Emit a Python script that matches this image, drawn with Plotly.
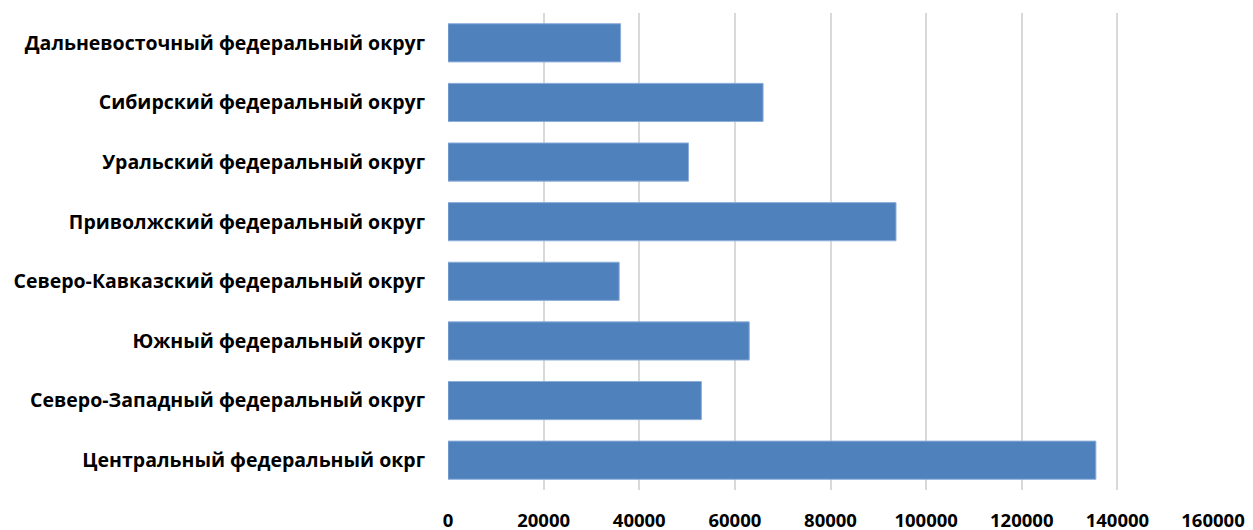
import plotly.graph_objects as go

districts = [
    "Центральный федеральный окрг",
    "Северо-Западный федеральный округ",
    "Южный федеральный округ",
    "Северо-Кавказский федеральный округ",
    "Приволжский федеральный округ",
    "Уральский федеральный округ",
    "Сибирский федеральный округ",
    "Дальневосточный федеральный округ",
]
values = [135500, 53000, 63000, 35800, 93700, 50300, 65900, 36100]
tick_vals = [0, 20000, 40000, 60000, 80000, 100000, 120000, 140000, 160000]
tick_text = ["0", "20000", "40000", "60000", "80000", "100000", "120000", "140000", "160000"]

fig = go.Figure(
    go.Bar(
        x=values,
        y=districts,
        orientation="h",
        marker=dict(color="#4F81BD", line=dict(color="#8EAEDB", width=1)),
        hoverinfo="x+y",
    )
)

fig.update_layout(
    width=1253,
    height=530,
    margin=dict(l=448, r=40, t=13, b=40),
    paper_bgcolor="white",
    plot_bgcolor="white",
    bargap=0.36,
    showlegend=False,
    font=dict(family="Open Sans", color="black"),
)
fig.update_xaxes(
    range=[0, 160000],
    tickvals=tick_vals,
    ticktext=tick_text,
    showgrid=True,
    gridcolor="#D9D9D9",
    gridwidth=2,
    zeroline=False,
    showline=False,
    automargin=False,
    tickfont=dict(family="Open Sans", size=18.5, color="black", weight="bold"),
    ticklabelstandoff=17,
)
fig.update_yaxes(
    showgrid=False,
    showline=False,
    automargin=False,
    tickfont=dict(family="Open Sans", size=19.5, color="black", weight="bold"),
    ticklabelstandoff=22,
)
fig.write_html(
    "out.html",
    config={"displayModeBar": False},
    post_script="document.body.style.margin='0';document.body.style.overflow='hidden';",
)
